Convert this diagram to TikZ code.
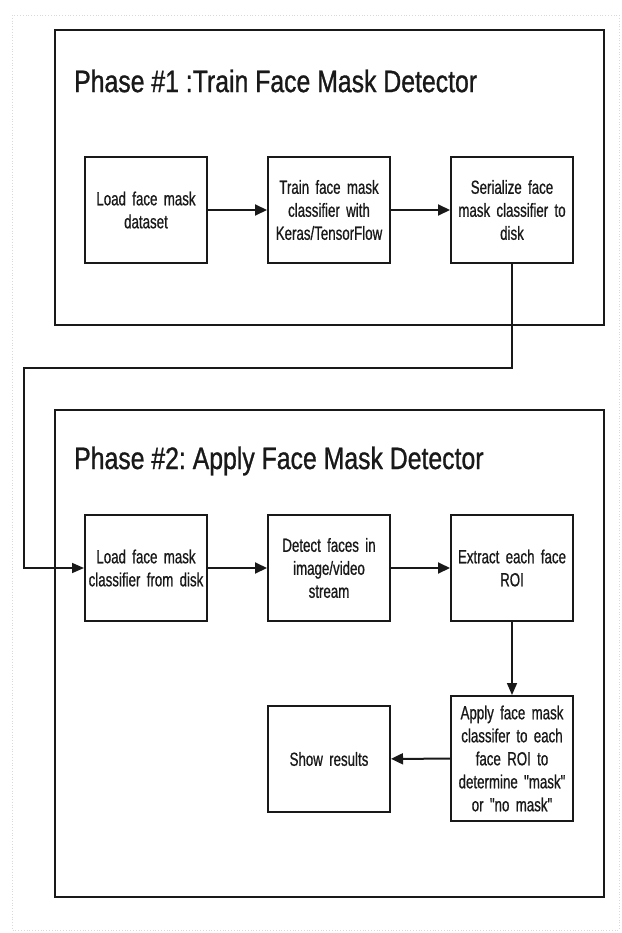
\documentclass[tikz,border=0pt]{standalone}
\usepackage{fontspec}
\setmainfont{Liberation Sans}
\newfontfamily\boxfont{Liberation Sans}[FakeStretch=0.7,FakeBold=0.7]
\newfontfamily\titlefont{Liberation Sans}[FakeStretch=0.8,FakeBold=0.9]
\usetikzlibrary{arrows.meta}
\frenchspacing
\begin{document}
\begin{tikzpicture}[x=1pt,y=-1pt,
  stepbox/.style={draw=black!90, line width=2pt, minimum width=122pt, minimum height=106pt,
    align=center, text width=120pt, inner sep=1pt, font=\boxfont\fontsize{19}{23}\selectfont, text=black!90},
  frame/.style={draw=black!90, line width=2pt},
  phasetitle/.style={anchor=west, inner sep=0pt, font=\titlefont\fontsize{31}{36}\selectfont, text=black!90},
  flow/.style={draw=black!90, line width=2pt, -{Triangle[length=12pt,width=11pt]}},
  link/.style={draw=black!90, line width=1.6pt, -{Triangle[length=12pt,width=10pt]}}]
\useasboundingbox (0,0) rectangle (621,933);
\fill[white] (0,0) rectangle (621,933);
\draw[black!15, dotted, line width=0.8pt] (12,15) rectangle (619,930);
% frames
\draw[frame] (54.5,30) rectangle (604,325);
\draw[frame] (54.5,410) rectangle (604,897);
\node[phasetitle] (t1) at (74,81) {Phase \#1 :Train Face Mask Detector};
\node[phasetitle] (t2) at (74,461) {Phase \#2: Apply Face Mask Detector};
% phase 1
\node[stepbox] (b1) at (146,210) {Load face mask\\dataset};
\node[stepbox] (b2) at (329,210) {Train face mask\\classifier with\\Keras/TensorFlow};
\node[stepbox] (b3) at (512,210) {Serialize face\\mask classifier to\\disk};
% phase 2
\node[stepbox] (b4) at (146,568) {Load face mask\\classifier from disk};
\node[stepbox] (b5) at (329,568) {Detect faces in\\image/video\\stream};
\node[stepbox] (b6) at (512,568) {Extract each face\\ROI};
\node[stepbox, minimum height=125pt] (b7) at (512,758.5) {Apply face mask\\classifer to each\\face ROI to\\determine "mask"\\or "no mask"};
\node[stepbox] (b8) at (329,759) {Show results};
\coordinate (bend) at (24,368);
\draw[flow] (b1) -- (b2);
\draw[flow] (b2) -- (b3);
\draw[link] (b3.south) |- (bend) |- (b4.west);
\draw[flow] (b4) -- (b5);
\draw[flow] (b5) -- (b6);
\draw[link] (b6) -- (b7);
\draw[flow] (b7) -- (b8);
\end{tikzpicture}
\end{document}
